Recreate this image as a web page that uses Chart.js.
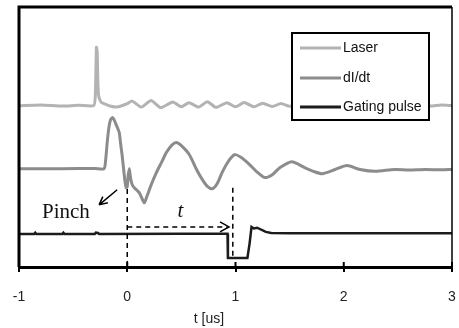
<!DOCTYPE html>
<html>
<head>
<meta charset="utf-8">
<script src="https://cdn.jsdelivr.net/npm/chart.js@4.4.0/dist/chart.umd.min.js"></script>
<style>
  body { margin: 0; background: #fff; }
  #wrap { width: 459px; height: 328px; }
</style>
</head>
<body>
<div id="wrap"><canvas id="scope" width="459" height="328"></canvas></div>
<script>
// time axis [us]
const xTicks = [-1, 0, 1, 2, 3];
const seriesNames = ['Laser', 'dI/dt', 'Gating pulse'];
const seriesColors = ['#b3b3b3', '#8c8c8c', '#1c1c1c'];

// traces, arbitrary vertical units (0 = bottom of frame, 100 = top)
const laserT = [-1, -0.8, -0.6, -0.45, -0.31, -0.295, -0.285, -0.278, -0.272, -0.265,
  -0.255, -0.24, -0.2, -0.15, -0.1, -0.05, 0.0, 0.046, 0.13, 0.22,
  0.31, 0.42, 0.5, 0.57, 0.66, 0.74, 0.82, 0.92, 1.0, 1.08,
  1.17, 1.25, 1.34, 1.42, 1.5, 1.6, 1.68, 1.77, 1.85, 1.93,
  2.02, 2.1, 2.2, 2.3, 2.4, 2.5, 2.6, 2.7, 2.8, 2.9, 3.0];
const laserV = [62.0, 62.3, 61.9, 62.2, 62.1, 66, 84.5, 83, 72, 66,
  64.5, 63.3, 62.6, 61.8, 61.5, 62.0, 62.8, 63.8, 61.5, 64.0,
  61.3, 63.5, 61.6, 63.2, 61.5, 63.6, 61.4, 63.2, 61.6, 63.3,
  61.6, 63.0, 61.7, 62.9, 61.8, 62.8, 61.7, 62.7, 61.8, 62.6,
  61.8, 62.5, 61.9, 62.5, 61.9, 62.4, 61.9, 62.3, 61.9, 62.3, 62.1];

const didtT = [-1, -0.6, -0.3, -0.215, -0.2, -0.185, -0.17, -0.155, -0.135, -0.12,
  -0.1, -0.085, -0.074, -0.06, -0.046, -0.032, -0.019, -0.009, 0.0, 0.008,
  0.019, 0.028, 0.037, 0.05, 0.065, 0.09, 0.111, 0.135, 0.157, 0.18,
  0.22, 0.269, 0.32, 0.361, 0.41, 0.454, 0.5, 0.574, 0.64, 0.694,
  0.74, 0.787, 0.83, 0.88, 0.94, 0.991, 1.05, 1.13, 1.2, 1.269,
  1.34, 1.41, 1.52, 1.64, 1.72, 1.8, 1.92, 2.03, 2.15, 2.29,
  2.47, 2.6, 2.75, 2.9, 3.0];
const didtV = [37.8, 37.8, 37.9, 37.8, 41, 48, 53.5, 56.5, 57.5, 56.5,
  54.5, 53, 51.7, 47, 42.5, 37, 32.4, 30.5, 31, 35,
  37.8, 35, 32.8, 31.3, 30.5, 29.5, 28.6, 26.5, 24.7, 27,
  31.5, 36.3, 40.5, 44, 46.8, 47.9, 46.7, 43.2, 37.5, 33.6,
  31, 30.1, 32, 36.7, 41, 43.2, 42.2, 39.4, 36.5, 34.4,
  35.5, 38.2, 40.5, 38.2, 36.8, 35.9, 37.5, 39, 37.5, 36.8,
  37.5, 37.3, 37.5, 37.4, 37.5];

const gateT = [-1, -0.86, -0.85, -0.84, -0.6, -0.59, -0.58, -0.3, -0.29, -0.27,
  -0.26, 0.5, 0.926, 0.93, 1.11, 1.13, 1.148, 1.17, 1.2, 1.28,
  1.33, 1.5, 2.0, 2.5, 3.0];
const gateV = [12.7, 12.7, 13.2, 12.7, 12.7, 13.2, 12.7, 12.7, 13.2, 13.1,
  12.7, 12.8, 12.8, 3.5, 3.5, 9, 15.4, 14.8, 15.1, 13.5,
  13.1, 13.0, 13.0, 13.0, 13.0];

const pairs = (ts, vs) => ts.map((t, i) => ({ x: t, y: vs[i] }));

// frame, inner tick marks, legend and hand-drawn annotations
const decorations = {
  id: 'decorations',
  afterDraw(chart) {
    const { ctx, chartArea: a, scales: { x, y } } = chart;
    ctx.save();
    ctx.strokeStyle = '#000';
    ctx.lineCap = 'butt';

    // frame
    ctx.lineWidth = 3;
    ctx.beginPath();
    ctx.moveTo(a.left, a.bottom); ctx.lineTo(a.left, a.top); ctx.lineTo(a.right, a.top);
    ctx.stroke();
    ctx.lineWidth = 1.5;
    ctx.beginPath();
    ctx.moveTo(a.right, a.top); ctx.lineTo(a.right, a.bottom);
    ctx.stroke();

    // ticks pointing into the plot
    ctx.lineWidth = 2;
    xTicks.forEach(v => {
      const px = x.getPixelForValue(v);
      ctx.beginPath(); ctx.moveTo(px, a.bottom); ctx.lineTo(px, a.bottom - 5); ctx.stroke();
    });

    // dashed markers
    ctx.lineWidth = 1.5;
    ctx.setLineDash([5, 4]);
    ctx.beginPath();
    ctx.moveTo(x.getPixelForValue(0), y.getPixelForValue(30));
    ctx.lineTo(x.getPixelForValue(0), a.bottom);
    ctx.moveTo(x.getPixelForValue(0.975), y.getPixelForValue(30.5));
    ctx.lineTo(x.getPixelForValue(0.975), y.getPixelForValue(3.5));
    const ay = y.getPixelForValue(15.4);
    const ax0 = x.getPixelForValue(0), ax1 = x.getPixelForValue(0.94);
    ctx.moveTo(ax0, ay); ctx.lineTo(ax1 - 2, ay);
    ctx.stroke();
    ctx.setLineDash([]);
    ctx.beginPath();
    ctx.moveTo(ax1 - 9, ay - 5); ctx.lineTo(ax1, ay); ctx.lineTo(ax1 - 9, ay + 5);
    ctx.stroke();

    // pinch arrow
    const p1x = x.getPixelForValue(-0.093), p1y = y.getPixelForValue(29.7);
    const p2x = x.getPixelForValue(-0.26), p2y = y.getPixelForValue(23.9);
    ctx.beginPath();
    ctx.moveTo(p1x, p1y); ctx.lineTo(p2x, p2y);
    const ang = Math.atan2(p2y - p1y, p2x - p1x);
    [0.45, -0.45].forEach(d => {
      ctx.moveTo(p2x, p2y);
      ctx.lineTo(p2x - 9 * Math.cos(ang + d), p2y - 9 * Math.sin(ang + d));
    });
    ctx.stroke();

    ctx.fillStyle = '#111';
    ctx.textBaseline = 'middle';
    ctx.textAlign = 'left';
    ctx.font = '21px "Liberation Serif", serif';
    ctx.fillText('Pinch', 42, 212);
    ctx.font = 'italic 21px "Liberation Serif", serif';
    ctx.textAlign = 'center';
    ctx.fillText('t', x.getPixelForValue(0.49), 211);

    // axis title
    ctx.font = '14px "Liberation Sans", Arial, sans-serif';
    ctx.fillStyle = '#222';
    ctx.fillText('t [us]', 209, 319);

    // legend
    const box = { l: 292, t: 33, r: 429, b: 120 };
    ctx.fillStyle = '#fff';
    ctx.fillRect(box.l, box.t, box.r - box.l, box.b - box.t);
    ctx.lineWidth = 2;
    ctx.strokeStyle = '#000';
    ctx.strokeRect(box.l, box.t, box.r - box.l, box.b - box.t);
    const rows = [48, 78, 107];
    ctx.textAlign = 'left';
    ctx.font = '14px "Liberation Sans", Arial, sans-serif';
    chart.data.datasets.forEach((ds, i) => {
      ctx.strokeStyle = ds.borderColor;
      ctx.lineWidth = 3;
      ctx.beginPath(); ctx.moveTo(300, rows[i]); ctx.lineTo(341, rows[i]); ctx.stroke();
      ctx.fillStyle = '#111';
      ctx.fillText(ds.label, 343, rows[i]);
    });
    ctx.restore();
  }
};

new Chart(document.getElementById('scope'), {
  type: 'line',
  data: {
    datasets: [
      { label: seriesNames[0], data: pairs(laserT, laserV), borderColor: seriesColors[0], borderWidth: 3, tension: 0.2 },
      { label: seriesNames[1], data: pairs(didtT, didtV), borderColor: seriesColors[1], borderWidth: 3, tension: 0.25 },
      { label: seriesNames[2], data: pairs(gateT, gateV), borderColor: seriesColors[2], borderWidth: 2.5, tension: 0 }
    ]
  },
  options: {
    responsive: false,
    animation: false,
    elements: { point: { radius: 0 } },
    layout: { padding: { left: 19, right: 7, top: 7, bottom: 0 } },
    plugins: { legend: { display: false }, tooltip: { enabled: false } },
    scales: {
      x: {
        type: 'linear', min: -1, max: 3,
        afterBuildTicks: s => { s.ticks = xTicks.map(v => ({ value: v })); },
        afterFit: s => { s.height = 61; s.paddingLeft = 0; s.paddingRight = 0; },
        ticks: { color: '#222', padding: 17, font: { family: 'Liberation Sans', size: 14 } },
        grid: { drawOnChartArea: false, color: '#000', lineWidth: 2, tickLength: 5 },
        border: { display: true, color: '#000', width: 3 }
      },
      y: { display: false, min: 0, max: 100 }
    }
  },
  plugins: [decorations]
});
</script>
</body>
</html>
